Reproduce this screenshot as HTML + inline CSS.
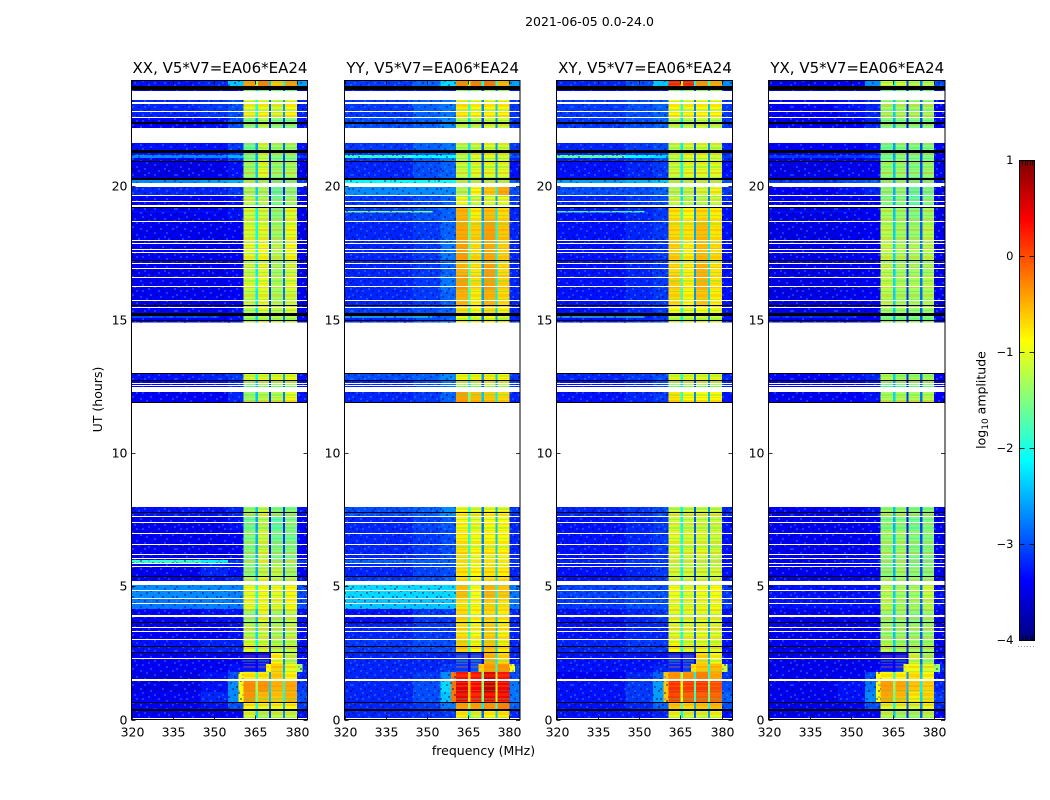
<!DOCTYPE html>
<html lang="en">
<head>
<meta charset="utf-8">
<title>2021-06-05 0.0-24.0</title>
<style>
html,body{margin:0;padding:0;background:#fff;width:1050px;height:800px;overflow:hidden}
svg{display:block}
text{font-family:"DejaVu Sans","Liberation Sans",sans-serif;fill:#000}
</style>
</head>
<body>
<svg id="chart" xmlns="http://www.w3.org/2000/svg" width="1050" height="800" viewBox="0 0 1050 800">
<defs>
<pattern id="speckle" width="44" height="34" patternUnits="userSpaceOnUse">
<path fill="#000060" fill-opacity="0.42" d="M2 0h2v2h-2zM10 2h2v2h-2zM20 0h2v2h-2zM34 2h2v2h-2zM40 0h2v2h-2zM6 4h2v2h-2zM16 6h2v2h-2zM28 4h2v2h-2zM38 6h2v2h-2zM0 8h2v2h-2zM12 8h2v2h-2zM24 8h2v2h-2zM32 10h2v2h-2zM42 10h2v2h-2zM4 12h2v2h-2zM18 12h2v2h-2zM26 14h2v2h-2zM8 16h2v2h-2zM14 14h2v2h-2zM36 14h2v2h-2zM0 18h2v2h-2zM20 18h2v2h-2zM30 18h2v2h-2zM40 18h2v2h-2zM6 20h2v2h-2zM12 22h2v2h-2zM24 22h2v2h-2zM36 22h2v2h-2zM2 24h2v2h-2zM18 26h2v2h-2zM30 26h2v2h-2zM42 26h2v2h-2zM8 28h2v2h-2zM26 30h2v2h-2zM38 30h2v2h-2zM14 30h2v2h-2zM0 32h2v2h-2zM22 32h2v2h-2zM34 32h2v2h-2z"/>
<path fill="#2f8cff" fill-opacity="0.42" d="M6 0h2v2h-2zM16 2h2v2h-2zM26 0h2v2h-2zM36 0h2v2h-2zM0 4h2v2h-2zM12 4h2v2h-2zM22 4h2v2h-2zM42 4h2v2h-2zM8 8h2v2h-2zM18 10h2v2h-2zM30 8h2v2h-2zM38 10h2v2h-2zM2 14h2v2h-2zM10 12h2v2h-2zM22 14h2v2h-2zM32 14h2v2h-2zM16 16h2v2h-2zM42 16h2v2h-2zM4 18h2v2h-2zM10 18h2v2h-2zM26 18h2v2h-2zM34 20h2v2h-2zM18 22h2v2h-2zM0 22h2v2h-2zM8 24h2v2h-2zM28 24h2v2h-2zM40 24h2v2h-2zM14 26h2v2h-2zM22 28h2v2h-2zM34 28h2v2h-2zM4 30h2v2h-2zM32 32h2v2h-2zM12 32h2v2h-2z"/>
</pattern>
<pattern id="band-stripes" width="8" height="19" patternUnits="userSpaceOnUse">
<rect x="0" y="1" width="8" height="2" fill="#ff8000" fill-opacity="0.3"/>
<rect x="0" y="6" width="8" height="1" fill="#30d080" fill-opacity="0.3"/>
<rect x="0" y="9" width="8" height="3" fill="#ff8000" fill-opacity="0.22"/>
<rect x="0" y="14" width="8" height="2" fill="#40e060" fill-opacity="0.3"/>
<rect x="0" y="17" width="8" height="1" fill="#ffa000" fill-opacity="0.3"/>
</pattern>
<linearGradient id="jet-gradient" x1="0" y1="1" x2="0" y2="0"></linearGradient>
</defs>
<text x="589.5" y="26" font-size="12.5" text-anchor="middle">2021-06-05 0.0-24.0</text>
<g id="panels"></g>
<text x="483.5" y="755" font-size="12.5" text-anchor="middle">frequency (MHz)</text>
<text transform="translate(102,399.5) rotate(-90)" font-size="12.5" text-anchor="middle">UT (hours)</text>
<g id="colorbar"></g>
<text transform="translate(985.5,400) rotate(-90)" font-size="12.5" text-anchor="middle">log<tspan font-size="9" dy="2.5">10</tspan><tspan dy="-2.5"> amplitude</tspan></text>
</svg>
<script>
// Axis domains and ticks
const freqTicks = [320, 335, 350, 365, 380];
const hourTicks = [0, 5, 10, 15, 20];
const colorTicks = [1, 0, -1, -2, -3, -4];
const panelTitles = ["XX, V5*V7=EA06*EA24", "YY, V5*V7=EA06*EA24", "XY, V5*V7=EA06*EA24", "YX, V5*V7=EA06*EA24"];

// Frequency channels in MHz: background, roll-off, four sub-bands and the gaps between them
const channelStart = [320, 345, 355, 360.7, 365.1, 366, 370, 370.8, 375, 375.8, 380.1];
const channelEnd = [345, 355, 360.7, 365.1, 366, 370, 370.8, 375, 375.8, 380.1, 384];

// Time rows in UT hours
const rowStart = [0, .375, .675, 1.05, 1.462, 1.8, 2.1, 2.55, 3.0, 3.6, 4.162, 4.574, 5.062, 5.362, 5.887, 6.0, 6.6, 7.124, 7.649, 11.886, 12.298, 12.748, 14.897, 15.148, 15.561, 16.123, 16.685, 17.173, 17.998, 18.71, 19.198, 19.685, 20.146, 20.285, 20.922, 21.072, 21.185, 22.197, 22.572, 23.585, 23.772];
const rowEnd = [.375, .675, 1.05, 1.462, 1.8, 2.1, 2.55, 3.0, 3.6, 4.162, 4.574, 5.062, 5.362, 5.887, 6.0, 6.6, 7.124, 7.649, 7.987, 12.298, 12.748, 13.011, 15.148, 15.561, 16.123, 16.685, 17.173, 17.998, 18.71, 19.198, 19.685, 19.996, 20.285, 20.922, 21.072, 21.185, 21.635, 22.572, 23.247, 23.772, 24];

// log10 amplitude per row: [low, mid, rolloff, bandA, bandB, bandC, bandD, post]
const xxLevels = [
[-3.4,-3.4,-3.4,-1.1,-1.3,-1.2,-1.2,-3.3],[-3.4,-3.3,-3.0,-.85,-1.0,-.95,-.85,-3.1],[-3.4,-3.2,-2.7,-.35,-.55,-.6,-.5,-3.0],[-3.5,-3.3,-2.7,-.3,-.35,-.5,-.45,-3.1],[-3.5,-3.3,-3.0,-.8,-.8,-.65,-.85,-3.2],
[-3.4,-3.4,-3.3,-3.3,-3.2,-.65,-1.0,-3.2],[-3.4,-3.4,-3.4,-3.4,-3.3,-.85,-1.2,-3.3],[-3.3,-3.2,-3.2,-1.05,-1.1,-1.25,-1.2,-3.3],[-3.4,-3.4,-3.3,-1.25,-1.15,-1.3,-1.2,-3.3],[-3.4,-3.3,-3.3,-1.4,-1.05,-1.35,-1.2,-3.3],
[-2.8,-2.75,-2.8,-1.0,-.95,-1.05,-.9,-3.0],[-2.7,-2.7,-2.75,-1.0,-.95,-1.0,-.85,-3.0],[-3.4,-3.3,-3.2,-1.3,-1.05,-1.25,-1.25,-3.3],[-3.45,-3.2,-3.3,-1.5,-1.25,-1.25,-1.4,-3.4],[-1.9,-2.2,-3.1,-1.4,-1.05,-1.4,-1.3,-3.1],
[-3.45,-3.45,-3.4,-1.5,-1.15,-1.5,-1.5,-3.4],[-3.45,-3.45,-3.4,-1.5,-1.15,-1.6,-1.6,-3.4],[-3.45,-3.45,-3.3,-1.6,-1.25,-1.7,-1.5,-3.4],[-3.3,-3.3,-3.2,-1.4,-1.15,-1.5,-1.5,-3.3],
[-3.4,-3.4,-3.2,-1.4,-1.25,-1.25,-1.0,-3.3],[-3.4,-3.3,-3.2,-1.5,-1.35,-1.35,-1.35,-3.3],[-3.3,-3.2,-3.1,-1.05,-1.0,-1.0,-.95,-3.3],
[-3.4,-3.4,-3.3,-1.3,-1.15,-1.25,-1.25,-3.4],[-3.4,-3.4,-3.3,-1.25,-1.05,-1.2,-1.05,-3.4],[-3.45,-3.45,-3.4,-1.2,-1.05,-1.3,-1.15,-3.45],[-3.45,-3.45,-3.4,-1.1,-1.0,-1.3,-1.05,-3.45],[-3.45,-3.45,-3.4,-1.2,-1.05,-1.35,-1.15,-3.45],
[-3.45,-3.45,-3.4,-1.05,-.95,-1.25,-.95,-3.45],[-3.45,-3.45,-3.4,-1.1,-1.05,-1.35,-1.0,-3.45],[-3.45,-3.4,-3.3,-1.15,-1.15,-1.45,-1.05,-3.45],[-3.4,-3.4,-3.3,-1.2,-1.25,-1.55,-1.35,-3.4],[-3.2,-3.2,-3.1,-1.35,-1.35,-1.7,-1.5,-3.3],
[-2.7,-2.6,-2.5,-1.35,-1.4,-1.6,-1.6,-3.1],[-3.5,-3.45,-3.3,-1.35,-1.05,-1.4,-1.3,-3.45],[-3.4,-3.3,-3.1,-1.5,-1.15,-1.5,-1.5,-3.4],[-2.7,-2.7,-2.5,-1.5,-1.25,-1.5,-1.5,-3.1],[-3.3,-3.3,-3.1,-1.6,-1.15,-1.35,-1.35,-3.3],
[-3.4,-3.3,-3.0,-1.5,-1.25,-1.5,-1.5,-3.3],[-3.2,-3.1,-3.0,-1.0,-.95,-1.1,-.9,-3.2],[-3.5,-3.5,-3.4,-1.4,-1.4,-1.5,-1.5,-3.5],[-3.3,-3.2,-2.4,-.4,-.25,-.6,-.4,-2.6]
];
const yyLevels = [
[-3.2,-3.15,-3.1,-.8,-1.1,-.85,-.8,-3.2],[-3.2,-3.1,-2.8,-.4,-.4,-.35,-.25,-2.9],[-3.2,-3.0,-2.4,.45,.3,.45,.4,-2.8],[-3.2,-3.0,-2.3,.5,.4,.7,.45,-2.8],[-3.2,-3.1,-2.7,.3,.3,.55,.3,-3.0],
[-3.2,-3.2,-3.1,-3.1,-3.0,-.4,-.35,-3.0],[-3.2,-3.2,-3.2,-3.1,-3.1,-.5,-.7,-3.2],[-3.1,-3.0,-3.0,-.65,-.85,-.6,-.8,-3.2],[-3.2,-3.1,-3.1,-.75,-.9,-.65,-.8,-3.2],[-3.3,-3.1,-3.1,-.7,-.85,-.7,-.8,-3.2],
[-2.4,-2.4,-2.4,-.75,-.85,-.65,-.75,-2.8],[-2.3,-2.3,-2.3,-.55,-.9,-.5,-.6,-2.8],[-3.1,-3.0,-2.9,-.75,-.9,-.75,-.75,-3.2],[-3.2,-3.05,-3.0,-.75,-.85,-.75,-.8,-3.2],[-2.9,-2.9,-2.9,-.8,-.9,-.85,-.9,-3.1],
[-3.2,-3.1,-3.0,-.75,-.9,-.8,-.85,-3.2],[-3.2,-3.1,-3.0,-.8,-.95,-.85,-.9,-3.2],[-3.2,-3.05,-2.95,-.85,-1.0,-.9,-.9,-3.2],[-3.0,-2.9,-2.7,-.85,-1.0,-.9,-.95,-3.1],
[-3.2,-3.1,-2.9,-.4,-.55,-.6,-.7,-3.2],[-3.2,-3.0,-2.8,-1.3,-1.3,-1.2,-1.2,-3.1],[-3.0,-2.9,-2.7,-.85,-.85,-.8,-.85,-3.1],
[-3.2,-3.0,-2.9,-.95,-1.0,-.9,-1.05,-3.2],[-3.1,-3.0,-2.9,-.7,-.85,-.7,-.8,-3.2],[-3.2,-3.1,-2.9,-.5,-.8,-.5,-.7,-3.2],[-3.2,-3.1,-2.8,-.4,-.7,-.4,-.65,-3.2],[-3.2,-3.1,-2.9,-.5,-.75,-.4,-.7,-3.2],
[-3.2,-3.1,-2.8,-.4,-.7,-.45,-.65,-3.2],[-3.2,-3.1,-2.9,-.45,-.65,-.4,-.6,-3.2],[-3.1,-3.0,-2.9,-.5,-.8,-.55,-.7,-3.2],[-3.1,-3.0,-2.9,-.95,-1.15,-1.05,-1.0,-3.1],[-2.7,-2.7,-2.7,-1.3,-.9,-.6,-.45,-3.0],
[-2.1,-2.1,-2.1,-1.3,-1.3,-1.3,-1.3,-2.9],[-3.2,-3.0,-2.9,-1.15,-1.05,-1.05,-1.05,-3.3],[-3.1,-2.9,-2.7,-1.25,-1.05,-1.1,-1.1,-3.2],[-1.9,-2.1,-2.1,-1.25,-1.05,-1.05,-1.15,-3.0],[-3.1,-2.9,-2.8,-1.25,-1.15,-1.05,-1.1,-3.1],
[-3.0,-2.9,-2.7,-1.25,-1.25,-1.15,-1.15,-3.1],[-3.1,-2.9,-2.8,-.8,-.9,-.85,-.85,-3.1],[-3.3,-3.3,-3.2,-1.3,-1.3,-1.3,-1.3,-3.3],[-3.1,-2.9,-2.3,-.3,-.25,-.2,-.5,-2.6]
];
const xyLevels = [
[-3.3,-3.3,-3.2,-1.0,-1.15,-1.1,-1.0,-3.3],[-3.3,-3.2,-2.9,-.6,-.7,-.6,-.55,-3.0],[-3.3,-3.1,-2.6,.1,-.05,-.05,-.1,-2.9],[-3.3,-3.1,-2.6,.15,.1,.1,0,-3.0],[-3.4,-3.2,-2.9,-.35,-.35,-.25,-.45,-3.1],
[-3.3,-3.3,-3.2,-3.2,-3.1,-.6,-.55,-3.1],[-3.3,-3.3,-3.3,-3.2,-3.2,-.7,-.95,-3.3],[-3.2,-3.1,-3.1,-.9,-1.05,-1.0,-1.05,-3.3],[-3.3,-3.2,-3.2,-1.05,-1.05,-1.0,-1.05,-3.3],[-3.3,-3.2,-3.1,-1.05,-1.05,-1.05,-1.05,-3.3],
[-3.1,-3.0,-3.0,-1.0,-1.05,-1.0,-.95,-3.1],[-3.05,-3.0,-3.0,-.95,-1.05,-.95,-.9,-3.1],[-3.3,-3.2,-3.1,-1.15,-1.15,-1.15,-1.15,-3.3],[-3.3,-3.2,-3.1,-1.15,-1.15,-1.15,-1.15,-3.3],[-3.2,-3.1,-3.1,-1.15,-1.15,-1.25,-1.25,-3.3],
[-3.3,-3.2,-3.1,-1.05,-1.1,-1.05,-1.15,-3.3],[-3.3,-3.2,-3.1,-1.05,-1.1,-1.1,-1.15,-3.3],[-3.3,-3.2,-3.1,-1.1,-1.15,-1.15,-1.15,-3.3],[-3.2,-3.1,-3.0,-1.15,-1.15,-1.15,-1.15,-3.2],
[-3.3,-3.2,-3.1,-.75,-.9,-.9,-.85,-3.3],[-3.3,-3.2,-3.0,-1.4,-1.3,-1.3,-1.3,-3.2],[-3.2,-3.1,-3.0,-1.0,-1.0,-1.0,-1.0,-3.2],
[-3.3,-3.2,-3.1,-1.15,-1.15,-1.1,-1.15,-3.3],[-3.3,-3.2,-3.1,-.9,-1.0,-.9,-.95,-3.3],[-3.3,-3.2,-3.1,-.7,-.85,-.6,-.8,-3.3],[-3.3,-3.2,-3.1,-.65,-.8,-.5,-.75,-3.3],[-3.3,-3.2,-3.1,-.7,-.8,-.5,-.75,-3.3],
[-3.3,-3.2,-3.1,-.65,-.8,-.55,-.7,-3.3],[-3.3,-3.2,-3.1,-.7,-.75,-.55,-.75,-3.3],[-3.3,-3.2,-3.1,-.75,-.85,-.7,-.8,-3.3],[-3.2,-3.1,-3.0,-1.15,-1.25,-1.25,-1.15,-3.2],[-3.0,-3.0,-2.9,-1.3,-1.25,-1.15,-1.0,-3.1],
[-2.6,-2.5,-2.4,-1.3,-1.3,-1.3,-1.3,-3.0],[-3.3,-3.2,-3.1,-1.15,-1.05,-1.05,-1.05,-3.3],[-3.2,-3.1,-3.0,-1.2,-1.05,-1.1,-1.1,-3.2],[-1.7,-2.1,-2.3,-1.2,-1.05,-1.05,-1.15,-3.1],[-3.2,-3.1,-3.0,-1.2,-1.1,-1.1,-1.15,-3.2],
[-3.1,-3.0,-2.9,-1.25,-1.25,-1.15,-1.25,-3.1],[-3.1,-3.0,-2.9,-.9,-.95,-.9,-.9,-3.1],[-3.4,-3.3,-3.3,-1.3,-1.3,-1.3,-1.3,-3.4],[-3.2,-3.0,-2.4,.2,.2,-.35,-.45,-2.7]
];
const yxLevels = [
[-3.45,-3.45,-3.4,-1.25,-1.4,-1.4,-1.25,-3.4],[-3.45,-3.4,-3.0,-1.05,-1.05,-1.15,-1.0,-3.2],[-3.45,-3.3,-2.7,-.45,-.55,-.8,-.7,-3.1],[-3.45,-3.3,-2.8,-.4,-.45,-.6,-.65,-3.2],[-3.45,-3.4,-3.0,-.85,-.85,-.75,-.9,-3.3],
[-3.45,-3.45,-3.4,-3.3,-3.2,-.95,-1.05,-3.2],[-3.45,-3.45,-3.45,-3.4,-3.3,-1.15,-1.35,-3.4],[-3.4,-3.4,-3.3,-1.25,-1.35,-1.35,-1.35,-3.4],[-3.45,-3.45,-3.4,-1.4,-1.4,-1.4,-1.4,-3.4],[-3.45,-3.4,-3.4,-1.4,-1.4,-1.5,-1.4,-3.4],
[-3.3,-3.3,-3.3,-1.25,-1.35,-1.35,-1.25,-3.3],[-3.3,-3.3,-3.3,-1.25,-1.35,-1.35,-1.15,-3.3],[-3.45,-3.4,-3.3,-1.4,-1.4,-1.4,-1.4,-3.4],[-3.45,-3.4,-3.4,-1.5,-1.4,-1.5,-1.5,-3.45],[-3.4,-3.3,-3.3,-1.5,-1.4,-1.6,-1.6,-3.4],
[-3.45,-3.45,-3.4,-1.4,-1.4,-1.5,-1.5,-3.45],[-3.45,-3.45,-3.4,-1.4,-1.4,-1.5,-1.5,-3.45],[-3.45,-3.45,-3.4,-1.5,-1.5,-1.6,-1.5,-3.45],[-3.4,-3.4,-3.3,-1.4,-1.4,-1.5,-1.5,-3.4],
[-3.45,-3.4,-3.3,-1.3,-1.3,-1.3,-1.25,-3.4],[-3.45,-3.4,-3.3,-1.6,-1.6,-1.5,-1.5,-3.4],[-3.4,-3.3,-3.2,-1.25,-1.35,-1.35,-1.35,-3.4],
[-3.45,-3.45,-3.4,-1.5,-1.5,-1.5,-1.5,-3.45],[-3.45,-3.45,-3.4,-1.35,-1.35,-1.4,-1.35,-3.45],[-3.5,-3.45,-3.4,-1.25,-1.35,-1.35,-1.3,-3.45],[-3.5,-3.45,-3.4,-1.2,-1.3,-1.3,-1.25,-3.45],[-3.5,-3.45,-3.4,-1.25,-1.35,-1.35,-1.35,-3.45],
[-3.5,-3.45,-3.4,-1.2,-1.3,-1.3,-1.25,-3.45],[-3.5,-3.45,-3.4,-1.25,-1.35,-1.4,-1.25,-3.45],[-3.5,-3.45,-3.4,-1.3,-1.4,-1.5,-1.35,-3.45],[-3.45,-3.45,-3.4,-1.5,-1.5,-1.7,-1.5,-3.45],[-3.4,-3.3,-3.2,-1.5,-1.5,-1.7,-1.6,-3.4],
[-3.1,-3.0,-2.9,-1.5,-1.5,-1.6,-1.6,-3.3],[-3.5,-3.45,-3.4,-1.4,-1.4,-1.5,-1.4,-3.45],[-3.45,-3.4,-3.3,-1.5,-1.4,-1.5,-1.5,-3.45],[-3.1,-3.1,-3.0,-1.6,-1.5,-1.5,-1.5,-3.4],[-3.4,-3.4,-3.3,-1.6,-1.5,-1.5,-1.5,-3.4],
[-3.45,-3.4,-3.2,-1.5,-1.5,-1.5,-1.5,-3.4],[-3.4,-3.3,-3.2,-1.35,-1.35,-1.35,-1.35,-3.4],[-3.5,-3.5,-3.45,-1.6,-1.6,-1.6,-1.6,-3.5],[-3.45,-3.4,-2.7,-1.15,-1.15,-1.25,-1.25,-3.0]
];

// Localized emission: low-band shoulder, 2 UT bulge, narrow interference lines
const patchFreqStart = [358.9, 368.9, 380.1, 320, 320];
const patchFreqEnd = [360.7, 370.8, 382.2, 352, 352];
const patchHourStart = [.675, 1.8, 1.8, 19.04, 15.1];
const patchHourEnd = [1.8, 2.1, 2.1, 19.09, 15.14];
const xxPatchLevels = [-.9, -.85, -1.3, -3.3, -2.7];
const yyPatchLevels = [-.2, -.65, -.9, -1.5, -1.9];
const xyPatchLevels = [-.6, -.75, -1.1, -1.8, -1.8];
const yxPatchLevels = [-.9, -1.0, -1.4, -3.3, -3.0];

// Flagged integrations in UT hours, drawn white
const flagStart = [.037, 1.462, 2.294, 3.007, 3.307, 3.457, 3.881, 4.349, 4.544, 4.844, 5.062, 5.744, 5.857, 6.055, 6.194, 6.569, 6.993, 7.405, 7.604, 7.754, 7.987, 12.31, 12.467, 12.542, 12.591, 13.011, 15.466, 15.71, 16.243, 16.58, 16.918, 17.105, 17.518, 17.63, 17.855, 17.96, 18.672, 19.246, 19.421, 19.655, 19.996, 21.635, 22.572, 22.797, 23.097, 23.153, 23.247];
const flagEnd = [.075, 1.556, 2.332, 3.045, 3.345, 3.495, 3.919, 4.387, 4.582, 4.882, 5.223, 5.782, 5.895, 6.093, 6.232, 6.607, 7.031, 7.443, 7.642, 7.792, 11.886, 12.448, 12.505, 12.58, 12.629, 14.897, 15.504, 15.748, 16.281, 16.618, 16.956, 17.143, 17.556, 17.668, 17.893, 17.998, 18.71, 19.31, 19.459, 19.693, 20.146, 22.197, 22.61, 22.835, 23.135, 23.191, 23.585];

// Zero-amplitude integrations in UT hours, drawn black
const deadStart = [.356, .637, 2.519, 2.729, 3.629, 5.354, 7.78, 11.886, 12.703, 12.973, 14.979, 15.148, 15.515, 17.21, 19.19, 20.248, 20.921, 21.279, 22.347, 23.622];
const deadEnd = [.394, .675, 2.557, 2.767, 3.667, 5.392, 7.818, 11.924, 12.741, 13.011, 15.017, 15.249, 15.553, 17.248, 19.228, 20.311, 20.959, 21.372, 22.434, 23.772];

// Gap-channel drop below the weaker neighbouring band
const gapDrop = [1.0, 1.8, 1.5];

const SVG_NS = "http://www.w3.org/2000/svg";
const freqMin = 320, freqMax = 384, hourMin = 0, hourMax = 24;
const dataTop = 80, dataBottom = 720;
const plotTop = 80.5, plotBottom = 719.5;
const colorMin = -4, colorMax = 1;
const panelLeft = [131.5, 344.5, 556.5, 768.5];
const panelWidth = [176, 175.5, 176, 176.5];
const allLevels = [xxLevels, yyLevels, xyLevels, yxLevels];
const allPatches = [xxPatchLevels, yyPatchLevels, xyPatchLevels, yxPatchLevels];
const bandChannels = [3, 5, 7, 9];

function yScale(h) { return dataBottom - (h - hourMin) / (hourMax - hourMin) * (dataBottom - dataTop); }
function xScale(p, f) { return panelLeft[p] + (f - freqMin) / (freqMax - freqMin) * panelWidth[p]; }
function clip(v) { return Math.max(0, Math.min(1, v)); }
function jet(v) {
  const t = clip((v - colorMin) / (colorMax - colorMin));
  const r = clip(Math.min(4 * t - 1.5, -4 * t + 4.5));
  const g = clip(Math.min(4 * t - 0.5, -4 * t + 3.5));
  const b = clip(Math.min(4 * t + 0.5, -4 * t + 2.5));
  return "rgb(" + Math.round(r * 255) + "," + Math.round(g * 255) + "," + Math.round(b * 255) + ")";
}
function make(tag, attrs, parent) {
  const el = document.createElementNS(SVG_NS, tag);
  for (const k in attrs) el.setAttribute(k, attrs[k]);
  parent.appendChild(el);
  return el;
}
function gapLevel(a, b, drop) { return Math.max(Math.min(a, b) - drop, Math.min(Math.min(a, b), -3.4)); }
function rowCells(row) {
  return [row[0], row[1], row[2], row[3], gapLevel(row[3], row[4], gapDrop[0]), row[4], gapLevel(row[4], row[5], gapDrop[1]), row[5], gapLevel(row[5], row[6], gapDrop[2]), row[6], row[7]];
}
function hourBand(h0, h1, left, right, fill, parent) {
  const y0 = Math.round(yScale(h1));
  const y1 = Math.max(y0 + 1, Math.round(yScale(h0)));
  return make("rect", { x: left, y: y0, width: right - left, height: y1 - y0, fill: fill, "shape-rendering": "crispEdges" }, parent);
}

const panelsGroup = document.getElementById("panels");
panelTitles.forEach(function (title, p) {
  const g = make("g", {}, panelsGroup);
  
  
  const left = panelLeft[p], right = left + panelWidth[p];

  const heat = make("g", { "shape-rendering": "crispEdges" }, g);
  
  
  allLevels[p].forEach(function (row, r) {
    const y0 = yScale(rowEnd[r]), y1 = yScale(rowStart[r]);
    rowCells(row).forEach(function (v, c) {
      const x0 = xScale(p, channelStart[c]), x1 = xScale(p, channelEnd[c]);
      const cell = make("rect", { x: x0, y: y0, width: x1 - x0, height: y1 - y0, fill: jet(v) }, heat);
      
      
    });
  });
  patchFreqStart.forEach(function (f0, i) {
    const x0 = xScale(p, f0), x1 = xScale(p, patchFreqEnd[i]);
    const y0 = yScale(patchHourEnd[i]), y1 = yScale(patchHourStart[i]);
    const patch = make("rect", { x: x0, y: y0, width: x1 - x0, height: y1 - y0, fill: jet(allPatches[p][i]) }, heat);
    
    
  });

  const noiseA = make("rect", { x: left, y: plotTop, width: xScale(p, 360.7) - left, height: plotBottom - plotTop, fill: "url(#speckle)" }, g);
  
  
  const noiseB = make("rect", { x: xScale(p, 380.1), y: plotTop, width: right - xScale(p, 380.1), height: plotBottom - plotTop, fill: "url(#speckle)" }, g);
  
  
  bandChannels.forEach(function (c) {
    const x0 = xScale(p, channelStart[c]), x1 = xScale(p, channelEnd[c]);
    const stripes = make("rect", { x: x0, y: plotTop, width: x1 - x0, height: plotBottom - plotTop, fill: "url(#band-stripes)" }, g);
    
    
  });

  flagStart.forEach(function (h0, i) {
    const band = hourBand(h0, flagEnd[i], left, right, "#fff", g);
    
    
  });
  deadStart.forEach(function (h0, i) {
    const band = hourBand(h0, deadEnd[i], left, right, "#000", g);
    
    
  });

  const frame = make("rect", { x: left, y: plotTop, width: right - left, height: plotBottom - plotTop, fill: "none", stroke: "#000", "stroke-width": 1 }, g);
  
  

  freqTicks.forEach(function (f) {
    const x = Math.round(xScale(p, f)) + 0.5;
    const t1 = make("line", { x1: x, x2: x, y1: plotBottom, y2: plotBottom - 4, stroke: "#000", "stroke-width": 0.8 }, g);
    
    
    const t2 = make("line", { x1: x, x2: x, y1: plotTop, y2: plotTop + 4, stroke: "#000", "stroke-width": 0.8 }, g);
    
    
    const lab = make("text", { x: x, y: 736.5, "font-size": 12.5, "text-anchor": "middle" }, g);
    
    
    lab.textContent = String(f);
  });
  hourTicks.forEach(function (h) {
    const y = Math.round(yScale(h) - 0.5) + 0.5;
    const t1 = make("line", { x1: left, x2: left + 4, y1: y, y2: y, stroke: "#000", "stroke-width": 0.8 }, g);
    
    
    const t2 = make("line", { x1: right, x2: right - 4, y1: y, y2: y, stroke: "#000", "stroke-width": 0.8 }, g);
    
    
    const lab = make("text", { x: left - 4, y: y + 4, "font-size": 12.5, "text-anchor": "end" }, g);
    
    
    lab.textContent = String(h);
  });

  const ttl = make("text", { x: (left + right) / 2 + 0.5, y: 73, "font-size": 15, "text-anchor": "middle" }, g);
  
  
  ttl.textContent = title;
});

// Colorbar
const cbLeft = 1019.5, cbRight = 1034.5, cbTop = 160.5, cbBottom = 640.5;
function cbY(v) { return cbBottom - (v - colorMin) / (colorMax - colorMin) * (cbBottom - cbTop); }
const gradient = document.getElementById("jet-gradient");
for (let i = 0; i <= 40; i++) {
  const v = colorMin + (colorMax - colorMin) * i / 40;
  make("stop", { offset: (i / 40), "stop-color": jet(v) }, gradient);
}
const cb = document.getElementById("colorbar");
const cbRect = make("rect", { x: cbLeft, y: cbTop, width: cbRight - cbLeft, height: cbBottom - cbTop, fill: "url(#jet-gradient)", stroke: "#000", "stroke-width": 1 }, cb);


colorTicks.forEach(function (v) {
  const y = cbY(v);
  const t1 = make("line", { x1: cbLeft, x2: cbLeft + 5, y1: y, y2: y, stroke: "#000", "stroke-width": 0.8 }, cb);
  
  
  const t2 = make("line", { x1: cbRight, x2: cbRight - 5, y1: y, y2: y, stroke: "#000", "stroke-width": 0.8 }, cb);
  
  
  const lab = make("text", { x: 1013.5, y: y + 3.5, "font-size": 11.5, "text-anchor": "end" }, cb);
  
  
  lab.textContent = v < 0 ? "\u2212" + Math.abs(v) : String(v);
});
[1022.5, 1025.5, 1027.5, 1030.5, 1032.5].forEach(function (x) {
  const a = make("line", { x1: x, x2: x, y1: cbTop, y2: cbTop + 5, stroke: "#000", "stroke-width": 0.8 }, cb);
  
  
  const b = make("line", { x1: x, x2: x, y1: cbBottom, y2: cbBottom - 5, stroke: "#000", "stroke-width": 0.8 }, cb);
  
  
});
[1018, 1021, 1024, 1027, 1030, 1033].forEach(function (x) {
  const d = make("rect", { x: x, y: 646, width: 1, height: 1, fill: "#999" }, cb);
  
  
});
</script>
</body>
</html>
